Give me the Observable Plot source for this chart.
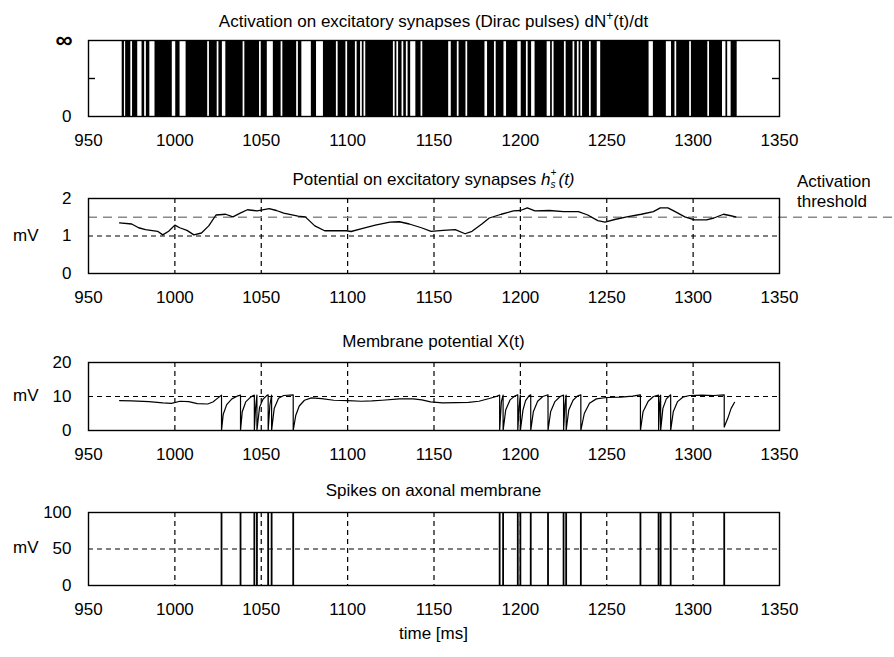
<!DOCTYPE html>
<html><head><meta charset="utf-8">
<script src="https://cdn.jsdelivr.net/npm/d3@7"></script>
<script src="https://cdn.jsdelivr.net/npm/@observablehq/plot@0.6"></script>
<style>
body{margin:0;background:#fff;font-family:"Liberation Sans",Arial,sans-serif;}
#fig{position:relative;width:894px;height:657px;overflow:hidden;background:#fff;}
.t{position:absolute;transform:translateX(-50%);font-size:17px;line-height:20px;color:#000;white-space:nowrap;}
.lab{position:absolute;font-size:17px;line-height:20px;color:#000;white-space:nowrap;}
.stack{display:inline-block;position:relative;width:8px;height:20px;vertical-align:top;font-size:10px;line-height:10px;}
.stack span{position:absolute;left:0;}
</style></head>
<body><div id="fig"></div>
<script>
// ---- data ----
const xTicks = [950, 1000, 1050, 1100, 1150, 1200, 1250, 1300, 1350];
const gridTimes = [1000, 1050, 1100, 1150, 1200, 1250, 1300];
const threshold = 1.5;
const thresholdLineEnd = 1417;

// excitatory pulse bursts (dense Dirac pulses), [start, end] in ms
const pulseBursts = [
  [969.5, 970.8], [971.5, 974.5], [975.5, 978.5], [981, 982.5], [983.5, 985.5],
  [988.5, 998.5], [1000.5, 1003], [1006.5, 1019], [1020, 1024.5], [1025.5, 1027.5],
  [1029.5, 1039.5], [1040.5, 1049], [1050, 1053.5], [1057, 1061.5], [1062.5, 1070.5],
  [1071.5, 1073.5], [1079, 1082], [1086, 1093.5], [1094.5, 1099], [1100, 1104.5],
  [1105.5, 1107.5], [1108.5, 1109.5], [1110.5, 1126.5], [1127.5, 1128.5], [1129.5, 1131.5],
  [1132.5, 1134], [1135, 1136.5], [1139.5, 1142.5], [1143.5, 1158.5], [1160, 1163.5],
  [1164.5, 1168.5], [1169.5, 1179.5], [1181, 1185], [1186, 1190.5], [1192, 1198.5],
  [1200.5, 1203.5], [1204.5, 1206.5], [1208.5, 1215.5], [1217.5, 1218.5], [1219.5, 1225.5],
  [1226.5, 1230.5], [1231.5, 1233], [1234, 1235], [1236, 1240], [1241, 1244.5],
  [1246.5, 1274.5], [1277, 1284.5], [1287.5, 1289.5], [1290.5, 1298], [1299, 1308.5],
  [1309.5, 1317], [1319, 1320], [1322, 1325.5]
];

// synaptic potential h_s^+(t)
const hTime = [968, 975, 979, 983, 990, 993, 996.4, 1000, 1002.8, 1007, 1011, 1015.4, 1019.6, 1023.8, 1029.4,
  1033.6, 1037.8, 1042, 1047.6, 1054.6, 1058.8, 1063, 1071.3, 1075.5, 1081, 1086.7, 1099.3, 1102, 1107.7, 1116,
  1124.5, 1130, 1135.7, 1142.7, 1148.3, 1155.3, 1162.3, 1168, 1172, 1177.7, 1182, 1188.9, 1196, 1200, 1204,
  1208.4, 1216.8, 1225, 1233.6, 1239, 1244.8, 1249, 1254.6, 1261.6, 1270, 1277, 1281, 1285.4, 1289.6, 1295.2,
  1300.8, 1307.8, 1312, 1317.6, 1321.8, 1324.7];
const hValue = [1.35, 1.32, 1.22, 1.17, 1.125, 1.03, 1.125, 1.29, 1.22, 1.15, 1.03, 1.08, 1.27, 1.56, 1.58,
  1.51, 1.61, 1.70, 1.67, 1.73, 1.68, 1.61, 1.53, 1.51, 1.27, 1.14, 1.14, 1.12, 1.19, 1.29,
  1.37, 1.38, 1.32, 1.22, 1.125, 1.15, 1.17, 1.06, 1.125, 1.32, 1.48, 1.58, 1.67, 1.68, 1.75,
  1.67, 1.68, 1.65, 1.65, 1.56, 1.41, 1.37, 1.44, 1.51, 1.58, 1.65, 1.75, 1.75, 1.65, 1.51,
  1.43, 1.43, 1.48, 1.58, 1.54, 1.51];

// membrane potential X(t)
const xTime = [968, 975, 985, 993, 998, 1003, 1008, 1013, 1019, 1022, 1025, 1027,
  1027, 1028, 1030, 1033, 1036, 1038,
  1038, 1039, 1041, 1044, 1046,
  1046, 1046.7, 1047.5,
  1047.5, 1049, 1051, 1053, 1054,
  1054, 1055, 1056,
  1056, 1057.5, 1060, 1063, 1068.5,
  1068.5, 1070, 1072, 1075, 1079, 1085, 1092, 1100, 1108, 1114, 1120, 1130, 1138, 1143, 1148, 1155, 1163, 1170, 1176, 1182, 1186, 1188,
  1188, 1189, 1190,
  1190, 1191.5, 1194, 1197, 1198.5,
  1198.5, 1199.3, 1200,
  1200, 1201.5, 1203, 1205, 1206,
  1206, 1207.5, 1210, 1213, 1216,
  1216, 1217.5, 1220, 1223, 1225,
  1225, 1225.8, 1226.5,
  1226.5, 1228, 1230.5, 1233, 1235,
  1235, 1237, 1240, 1244, 1250, 1258, 1265, 1269.5,
  1269.5, 1271, 1274, 1277, 1280,
  1280, 1280.6, 1281.2,
  1281.2, 1282.5, 1284.5, 1287,
  1287, 1288.5, 1291, 1294, 1298, 1305, 1312, 1318,
  1318, 1320, 1322, 1324];
const xValue = [8.8, 8.7, 8.5, 8.1, 8.0, 8.6, 8.5, 7.9, 7.8, 8.4, 9.6, 10.4,
  0, 4.8, 7.6, 9.3, 10.1, 10.4,
  0, 5.5, 8.4, 9.9, 10.4,
  0, 6.5, 10.4,
  0, 6.8, 9.2, 10.2, 10.5,
  0, 7.5, 10.4,
  0, 6.5, 9.5, 10.3, 10.5,
  0, 4.5, 7.2, 8.9, 9.6, 9.4, 8.9, 8.8, 8.6, 8.7, 8.9, 9.3, 9.3, 9.0, 8.4, 8.1, 8.2, 8.3, 8.6, 9.4, 10.0, 10.4,
  0, 8.5, 10.4,
  0, 6.0, 9.0, 10.2, 10.5,
  0, 7.0, 10.4,
  0, 6.0, 8.8, 10.2, 10.5,
  0, 5.5, 8.6, 10.0, 10.5,
  0, 5.5, 8.5, 10.0, 10.4,
  0, 7.5, 10.4,
  0, 6.0, 8.9, 10.1, 10.5,
  0, 5.0, 8.0, 9.3, 9.7, 9.8, 10.1, 10.5,
  0, 5.5, 8.6, 10.0, 10.4,
  0, 7.5, 10.4,
  0, 6.5, 9.3, 10.5,
  0, 5.5, 8.5, 9.8, 10.3, 10.4, 10.3, 10.5,
  1.0, 3.5, 6.5, 8.3];

// axonal spikes
const spikeTimes = [1027, 1038, 1046, 1047.5, 1054, 1056, 1068.5, 1188, 1190, 1198.5, 1200, 1206, 1216,
  1225, 1226.5, 1235, 1269.5, 1280, 1281.2, 1287, 1318];

// ---- drawing ----
const fig = document.getElementById("fig");
const FONT = "'Liberation Sans', Arial, sans-serif";
const dash = "5,4";

function panel({top, mt, frameH, mb, yDomain, yTicks, yFormat, extraAxes = [], marks}) {
  const svg = Plot.plot({
    width: 894, height: mt + frameH + mb,
    marginLeft: 88, marginRight: 115, marginTop: mt, marginBottom: mb,
    style: {fontFamily: FONT, fontSize: "17px", color: "black", background: "transparent", overflow: "visible"},
    x: {domain: [950, 1350], label: null},
    y: {domain: yDomain, label: null},
    marks: [
      ...marks,
      Plot.frame({stroke: "black", strokeWidth: 1.4}),
      Plot.axisX({ticks: xTicks, tickFormat: d => String(d), tickSize: 0, tickPadding: 17, label: null}),
      Plot.axisY({ticks: yTicks, tickFormat: yFormat, tickSize: 0, tickPadding: 17, label: null}),
      ...extraAxes
    ]
  });
  svg.style.position = "absolute";
  svg.style.left = "0px";
  svg.style.top = (top - mt) + "px";
  fig.appendChild(svg);
}

function text(cls, html, x, y) {
  const d = document.createElement("div");
  d.className = cls;
  d.innerHTML = html;
  d.style.left = x + "px";
  d.style.top = y + "px";
  fig.appendChild(d);
}

// Panel 1
panel({top: 40, mt: 10, frameH: 76, mb: 40, yDomain: [0, 2], yTicks: [0],
  yFormat: () => "0",
  extraAxes: [Plot.axisY({ticks: [2], tickFormat: () => "\u221E", tickSize: 0, tickPadding: 16, fontSize: 24, fontWeight: "bold", label: null})],
  marks: [
    Plot.rect(pulseBursts, {x1: d => d[0], x2: d => d[1], fill: "black"}),
    Plot.tickY([1], {stroke: "black", strokeWidth: 1.4, insetRight: 684}),
    Plot.tickY([1], {stroke: "black", strokeWidth: 1.4, insetLeft: 684})
  ]});

// Panel 2
panel({top: 198, mt: 10, frameH: 75, mb: 40, yDomain: [0, 2], yTicks: [0, 1, 2], yFormat: d => String(d),
  marks: [
    Plot.ruleX(gridTimes, {stroke: "black", strokeDasharray: dash, strokeWidth: 1.2}),
    Plot.ruleY([1], {stroke: "black", strokeDasharray: dash, strokeWidth: 1.2}),
    Plot.ruleY([threshold], {x1: 950, x2: thresholdLineEnd, stroke: "#8a8a8a", strokeDasharray: "9,6", strokeWidth: 1.5}),
    Plot.line(hTime, {x: hTime, y: hValue, stroke: "black", strokeWidth: 1.3})
  ]});

// Panel 3
panel({top: 362, mt: 10, frameH: 68, mb: 40, yDomain: [0, 20], yTicks: [0, 10, 20], yFormat: d => String(d),
  marks: [
    Plot.ruleX(gridTimes, {stroke: "black", strokeDasharray: dash, strokeWidth: 1.2}),
    Plot.ruleY([10], {stroke: "black", strokeDasharray: dash, strokeWidth: 1.2}),
    Plot.line(xTime, {x: xTime, y: xValue, stroke: "black", strokeWidth: 1.2})
  ]});

// Panel 4
panel({top: 512, mt: 10, frameH: 73, mb: 40, yDomain: [0, 100], yTicks: [0, 50, 100], yFormat: d => String(d),
  marks: [
    Plot.ruleX(gridTimes, {stroke: "black", strokeDasharray: dash, strokeWidth: 1.2}),
    Plot.ruleY([50], {stroke: "black", strokeDasharray: dash, strokeWidth: 1.2}),
    Plot.ruleX(spikeTimes, {y1: 0, y2: 100, stroke: "black", strokeWidth: 1.8})
  ]});

// Titles and labels
text("t", "Activation on excitatory synapses (Dirac pulses) dN<sup style='font-size:12px'>+</sup>(t)/dt", 433.5, 6);
text("t", "Potential on excitatory synapses <i>h<span class='stack'><span style='top:-2px'>+</span><span style='top:10px'>s</span></span>(t)</i>", 433.5, 170);
text("t", "Membrane potential X(t)", 433.5, 332);
text("t", "Spikes on axonal membrane", 433.5, 481);
text("t", "time [ms]", 433.5, 624);
text("lab", "mV", 13, 226);
text("lab", "mV", 13, 386);
text("lab", "mV", 13, 538);
text("lab", "Activation<br>threshold", 797, 172);
</script>
</body></html>
